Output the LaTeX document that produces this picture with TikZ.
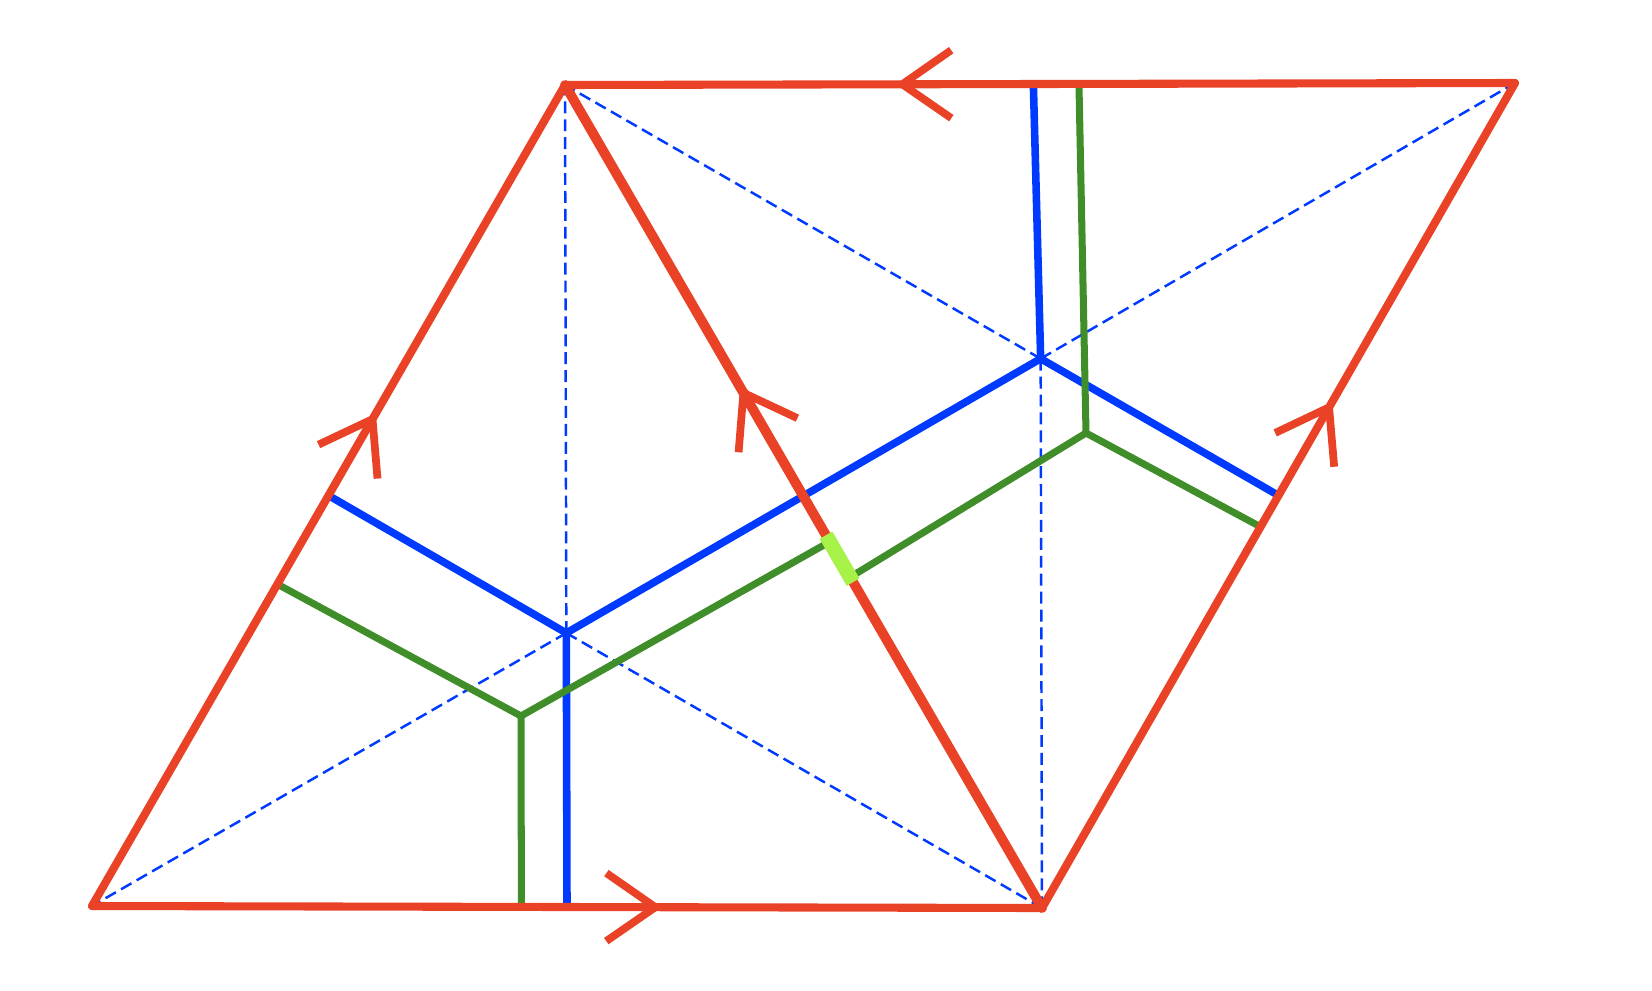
\documentclass[tikz,border=0pt]{standalone}
\usepackage{tikz}
\usetikzlibrary{calc,positioning,decorations.markings}
\definecolor{edgered}{RGB}{234,66,38}
\definecolor{dualblue}{RGB}{0,58,255}
\definecolor{dualgreen}{RGB}{64,142,42}
\definecolor{barlime}{RGB}{166,242,72}
\tikzset{
redline/.style={draw=edgered, line width=4.6pt, line cap=round, line join=round}, % triangulation edges
thickred/.style={redline, line width=5.6pt},
blueline/.style={draw=dualblue, line width=4.3pt},
greenline/.style={draw=dualgreen, line width=4pt},
dashline/.style={draw=dualblue, line width=1.4pt, dash pattern=on 6.8pt off 3.4pt},
limebar/.style={draw=barlime, line width=8.4pt},
chevron at/.style={postaction={decorate, decoration={markings,
    mark=at position #1 with {\draw[edgered, line width=4.4pt, line cap=butt] (-49,34) -- (0,0) -- (-49,-34);}}}},
}
\begin{document}
\begin{tikzpicture}[x=0.02cm, y=-0.02cm]
\useasboundingbox (0,0) rectangle (1652,990);
% vertices
\coordinate (v_0) at (92,906);
\coordinate (v_1) at (1042,908);
\coordinate (v_2) at (565,85);
\coordinate (v_3) at (1515,83);
% blue centres and green centres
\coordinate (p_0) at (barycentric cs:v_0=1,v_1=1,v_2=1);
\coordinate (p_1) at (barycentric cs:v_1=1,v_2=1,v_3=1);
\coordinate (g_0) at (521,716);
\coordinate (g_1) at (1086,433);
% points on the edges
\coordinate (m_02) at ($(v_0)!0.5!(v_2)$);
\coordinate (m_01) at ($(v_0)!0.5!(v_1)$);
\coordinate (m_23) at ($(v_2)!0.493!(v_3)$);
\coordinate (m_13) at ($(v_1)!0.5!(v_3)$);
\coordinate (n_02) at ($(v_0)!0.392!(v_2)$);
\coordinate (n_01) at ($(v_0)!0.452!(v_1)$);
\coordinate (n_21) at ($(v_2)!0.555!(v_1)$);
\coordinate (n_12) at ($(v_2)!0.598!(v_1)$);
\coordinate (n_23) at ($(v_2)!0.541!(v_3)$);
\coordinate (n_13) at ($(v_1)!0.462!(v_3)$);
\coordinate (l_0) at ($(v_2)!0.547!(v_1)$);
\coordinate (l_1) at ($(v_2)!0.604!(v_1)$);

\path[dashline]
(p_0) edge (v_0) edge (v_1) edge (v_2)
(p_1) edge (v_1) edge (v_2) edge (v_3);
\path[blueline]
(p_0) edge (m_02) edge (m_01) edge (p_1)
(p_1) edge (m_23) edge (m_13);
\path[greenline]
(g_0) edge (n_02) edge (n_01) edge (n_21)
(g_1) edge (n_12) edge (n_23) edge (n_13);
\path
(v_0) edge[redline, chevron at=0.593] (v_2)
(v_0) edge[redline, chevron at=0.593] (v_1)
(v_3) edge[redline, chevron at=0.645] (v_2)
(v_1) edge[redline, chevron at=0.607] (v_3)
(v_1) edge[thickred, chevron at=0.626] (v_2);
\draw[limebar] (l_0) -- (l_1);
\end{tikzpicture}
\end{document}
